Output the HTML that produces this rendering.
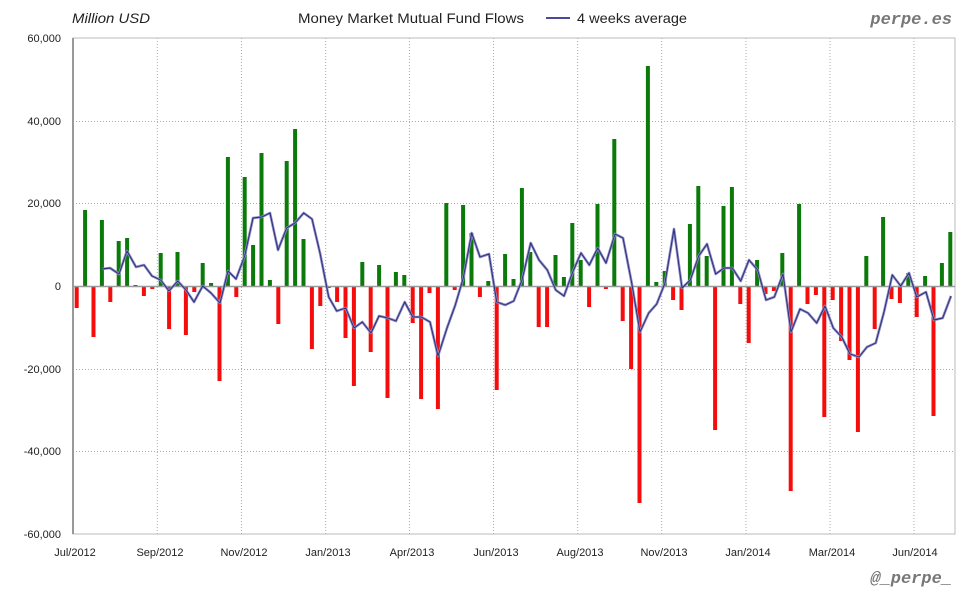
<!DOCTYPE html>
<html><head><meta charset="utf-8"><style>
html,body{margin:0;padding:0;background:#fff;}
svg{display:block;font-family:"Liberation Sans",sans-serif;}
</style></head><body>
<svg id="c" width="980" height="600" viewBox="0 0 980 600" xmlns="http://www.w3.org/2000/svg">
<rect x="0" y="0" width="980" height="600" fill="#fff"/>
<g id="grid" stroke="#aaa" stroke-width="1" stroke-dasharray="1,2"></g>
<rect x="73" y="38" width="882" height="496" fill="none" stroke="#bbb" stroke-width="1"/>
<line x1="73" y1="38" x2="73" y2="534" stroke="#999" stroke-width="2"/>
<g id="bars"></g>
<line x1="73" y1="286.5" x2="955" y2="286.5" stroke="#999" stroke-width="1.5"/>
<polyline id="l1" fill="none" stroke="#8a8ac8" stroke-width="2.6" stroke-linejoin="round"/>
<polyline id="l2" fill="none" stroke="#2a2a70" stroke-width="0.9" stroke-linejoin="round"/>
<g font-size="11" fill="#222" text-anchor="end">
<text x="61" y="42">60,000</text>
<text x="61" y="125">40,000</text>
<text x="61" y="207">20,000</text>
<text x="61" y="290">0</text>
<text x="61" y="373">-20,000</text>
<text x="61" y="455">-40,000</text>
<text x="61" y="538">-60,000</text>
</g>
<g font-size="11" fill="#222" text-anchor="middle">
<text x="75" y="556">Jul/2012</text>
<text x="160" y="556">Sep/2012</text>
<text x="244" y="556">Nov/2012</text>
<text x="328" y="556">Jan/2013</text>
<text x="412" y="556">Apr/2013</text>
<text x="496" y="556">Jun/2013</text>
<text x="580" y="556">Aug/2013</text>
<text x="664" y="556">Nov/2013</text>
<text x="748" y="556">Jan/2014</text>
<text x="832" y="556">Mar/2014</text>
<text x="915" y="556">Jun/2014</text>
</g>
<text x="72" y="23" font-size="14" font-style="italic" fill="#222" textLength="78" lengthAdjust="spacingAndGlyphs">Million USD</text>
<text x="298" y="23" font-size="14" fill="#222" textLength="226" lengthAdjust="spacingAndGlyphs">Money Market Mutual Fund Flows</text>
<line x1="546" y1="18" x2="570" y2="18" stroke="#4a4a9a" stroke-width="2"/>
<text x="577" y="23" font-size="14" fill="#222" textLength="110" lengthAdjust="spacingAndGlyphs">4 weeks average</text>
<text x="952" y="24" font-size="17" font-weight="bold" font-style="italic" fill="#777" text-anchor="end" font-family="Liberation Mono, monospace">perpe.es</text>
<text x="952" y="583" font-size="17" font-weight="bold" font-style="italic" fill="#777" text-anchor="end" font-family="Liberation Mono, monospace">@_perpe_</text>
</svg>
<script>
var ns="http://www.w3.org/2000/svg";
var g=document.getElementById("grid");
[121,203,369,451].forEach(function(y){var l=document.createElementNS(ns,"line");l.setAttribute("x1",73);l.setAttribute("x2",955);l.setAttribute("y1",y+.5);l.setAttribute("y2",y+.5);g.appendChild(l);});
[157.3,241.5,325.7,409.5,493.5,577.7,661.7,746,830,914].forEach(function(x){var l=document.createElementNS(ns,"line");l.setAttribute("y1",38);l.setAttribute("y2",534);l.setAttribute("x1",x);l.setAttribute("x2",x);g.appendChild(l);});
var b=[308,210,337,220,302,241,238,285,296,289,253,329,252,335,292,263,283,381,157,297,177,245,153,280,324,161,129,239,349,306,288,302,338,386,262,352,265,398,272,275,323,399,293,409,203,290,205,233,297,281,390,254,279,188,252,327,327,255,277,223,260,307,204,289,139,321,369,503,66,282,271,300,310,224,186,256,430,206,187,304,343,260,294,291,253,491,204,304,295,417,300,341,360,432,256,329,217,299,303,273,317,276,416,263,232];
var bg=document.getElementById("bars");
b.forEach(function(y,i){var x=76.7+8.4*i;var r=document.createElementNS(ns,"rect");var z=286.5;
r.setAttribute("x",(x-2).toFixed(1));r.setAttribute("width",4);
r.setAttribute("y",Math.min(y,z));r.setAttribute("height",Math.max(Math.abs(y-z),1));
r.setAttribute("fill",y<z?"#0b7a0b":"#f50d0d");bg.appendChild(r);});
var p=[[102,269],[110,268],[119,274],[127,251],[136,267],[144,265],[152,276],[160.7,280],[169,291],[177.7,281],[186,290],[194,302],[202.7,286],[211,293],[220,303],[228,271],[236,279],[244.7,256],[253,218],[261.7,217],[270,213],[278,250],[286.7,228],[295,223],[303.7,213],[312,219],[320,253],[328.7,297],[336.7,311],[345.7,308],[354,328],[362.3,322],[371,333],[379,316],[387.7,318],[396,321],[404.7,302],[412.7,317],[421.3,317],[430,322],[438,356],[447,328],[455.3,305],[463.3,278],[471.7,233],[480,257],[489,254],[496.7,302],[505.3,305],[513.7,301],[522,280],[530.7,243],[539,260],[547.3,270],[555.7,290],[564,296],[572.7,272],[581,253],[589.3,265],[597.7,248],[606,263],[615,234],[623,238],[631.7,283],[640,332],[648.7,313],[656.7,304],[665,283],[674,229],[682,288],[690.3,280],[698.7,256],[707,244],[715.7,274],[724,268],[732.3,268],[740.7,281],[749,260],[757.7,270],[766,300],[774.3,297],[783,274],[791,332],[800,309],[808,313],[816.7,323],[825,306],[833.3,328],[841.7,337],[850,354],[859,357],[867,347],[875.7,343],[884,312],[892.3,275],[900.7,286],[909,273],[916.7,297],[926,292],[934,320],[942.7,318],[951,296]];
var s=p.map(function(q){return q[0]+","+q[1];}).join(" ");
document.getElementById("l1").setAttribute("points",s);
document.getElementById("l2").setAttribute("points",s);
</script>
</body></html>
